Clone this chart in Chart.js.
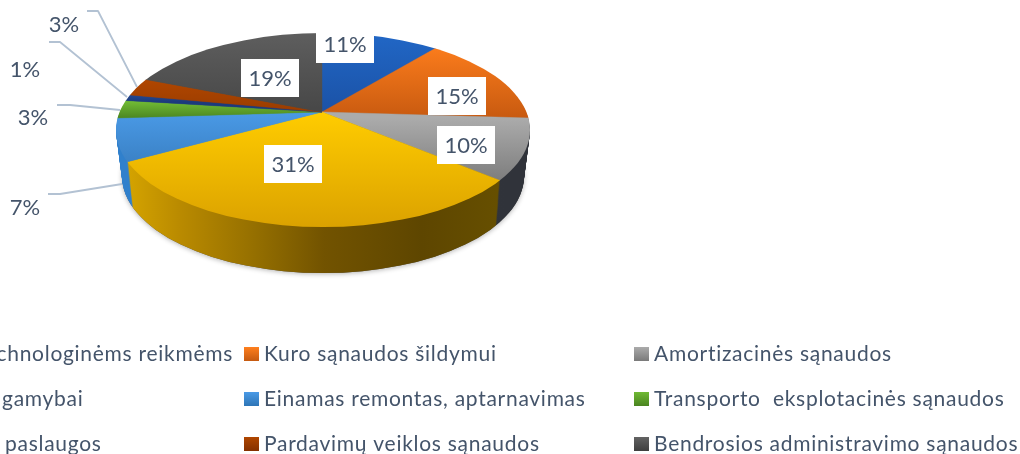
<!DOCTYPE html>
<html lang="lt"><head><meta charset="utf-8">
<style>html,body{margin:0;padding:0;background:#fff;overflow:hidden}canvas{display:block}</style>
<script src="https://cdn.jsdelivr.net/npm/chart.js@4"></script></head>
<body><canvas id="c" width="1020" height="454"></canvas>
<script>
// ---- data ----
const categories = [
  "chnologinėms reikmėms", "Kuro sąnaudos šildymui", "Amortizacinės sąnaudos",
  "gamybai", "Einamas remontas, aptarnavimas", "Transporto  eksplotacinės sąnaudos",
  "paslaugos", "Pardavimų veiklos sąnaudos", "Bendrosios administravimo sąnaudos"
];
const values = [11, 15, 10, 31, 7, 3, 1, 3, 19];

// ---- style ----
const topColors = [
  ["#2167c6", "#1b52a6"], ["#fb7c1c", "#c85a10"], ["#ababab", "#7d7d7d"],
  ["#ffcc00", "#dba200"], ["#4a9ae6", "#3a80c4"], ["#70b934", "#4e8a22"],
  ["#22468e", "#1c3a7c"], ["#b04600", "#9b3d00"], ["#5e5e5e", "#474747"]
];
const topRanges = [[33,112],[47,118],[118,181],[112,227],[112,165],[102,117],[96,102],[80,110],[33,112]];
const legendColors = [
  ["#2167c6","#1b52a6"], ["#ff7f1e","#c55a11"], ["#ababab","#7a7a7a"],
  ["#ffcc00","#dba200"], ["#4a9ae6","#2e75b6"], ["#70b934","#4a8420"],
  ["#22468e","#1c3a7c"], ["#b04600","#843000"], ["#636363","#3f3f3f"]
];
const wallStops = [
  [[0,"#1b52a6"],[1,"#1b52a6"]], [[0,"#9c4a10"],[1,"#9c4a10"]], [[0,"#41444b"],[1,"#30333a"]],
  [[0,"#d4a300"],[0.14,"#b98a00"],[0.33,"#967000"],[0.52,"#725300"],[0.78,"#5e4600"],[1,"#675000"]],
  [[0,"#3080cc"],[1,"#2a6cae"]], [[0,"#4e8a22"],[1,"#4e8a22"]], [[0,"#1c3a7c"],[1,"#1c3a7c"]],
  [[0,"#843000"],[1,"#843000"]], [[0,"#3f3f3f"],[1,"#3f3f3f"]]
];
const TEXT = "#44546a", LINE = "#b3c2d3";
const FONT_LEG = '21px Lato', FONT_LAB = '22px Lato', LEG_SPACING = '0.72px';
const APEX = {x:322, y:112}, K = 0.465;
const RIM = {x:323, y:130, rx:207, ry:97}, DEPTH = 46, NARROW = 6;

const legendRows = [{my:347, ty:361}, {my:392, ty:406}, {my:437, ty:451}];
const legendCols = [{tx:[233,2,5], align:['right','left','left']}, {mx:244, tx:[264,264,264]}, {mx:634, tx:[654,654,654]}];
const boxLabels = [
  {i:0, x:316, y:25}, {i:1, x:428, y:77}, {i:2, x:437, y:126}, {i:3, x:264, y:145}, {i:8, x:241, y:59}
];
const outLabels = [
  {i:4, x:25, y:208, pts:[[48,194],[60,194],[122,184]]},
  {i:5, x:33, y:118, pts:[[57,105],[70,105],[120,110]]},
  {i:6, x:25, y:70,  pts:[[49,42],[60,42],[127,97]]},
  {i:7, x:64, y:25,  pts:[[87,11],[98,11],[137,87]]}
];

function setup(ctx, dy){
  ctx.translate(APEX.x, APEX.y + dy);
  ctx.scale(1, K);
  ctx.translate(-APEX.x, -APEX.y);
}
function drawArc(ctx, arc, fill){
  const o = arc.options;
  arc.options = Object.create(o, {
    backgroundColor:{value:fill}, borderColor:{value:fill}, borderWidth:{value:0.6}
  });
  arc.draw(ctx);
  arc.options = o;
}
const userY = y => APEX.y + (y - APEX.y) / K;

const pie3d = {
  id:'pie3d',
  beforeDatasetDraw(chart){
    const ctx = chart.ctx, arcs = chart.getDatasetMeta(0).data;
    const wallGrads = wallStops.map(st => {
      const g = ctx.createLinearGradient(128,0,505,0);
      st.forEach(s => g.addColorStop(s[0], s[1]));
      return g;
    });
    ctx.save();
    ctx.shadowColor = 'rgba(0,0,0,0.3)'; ctx.shadowBlur = 5; ctx.shadowOffsetY = 1;
    ctx.fillStyle = '#555';
    ctx.beginPath();
    ctx.ellipse(RIM.x, RIM.y + DEPTH, RIM.rx - NARROW, RIM.ry, 0, 0, Math.PI*2);
    ctx.fill();
    ctx.restore();
    for (let d = DEPTH; d >= 1; d--){
      ctx.save();
      ctx.beginPath();
      ctx.ellipse(RIM.x, RIM.y + d, RIM.rx - NARROW*d/DEPTH, RIM.ry, 0, 0, Math.PI*2);
      ctx.clip();
      setup(ctx, d);
      arcs.forEach((a,i) => drawArc(ctx, a, wallGrads[i]));
      ctx.restore();
    }
    ctx.save();
    ctx.beginPath();
    ctx.ellipse(RIM.x, RIM.y, RIM.rx, RIM.ry, 0, 0, Math.PI*2);
    ctx.clip();
    setup(ctx, 0);
    arcs.forEach((a,i) => {
      const g = ctx.createLinearGradient(0, userY(topRanges[i][0]), 0, userY(topRanges[i][1]));
      g.addColorStop(0, topColors[i][0]); g.addColorStop(1, topColors[i][1]);
      drawArc(ctx, a, g);
    });
    ctx.restore();
    return false;
  },
  afterDraw(chart){
    const ctx = chart.ctx;
    ctx.save();
    ctx.strokeStyle = LINE; ctx.lineWidth = 1.8; ctx.lineJoin = 'round';
    outLabels.forEach(l => {
      ctx.beginPath();
      l.pts.forEach((p,j) => j ? ctx.lineTo(p[0],p[1]) : ctx.moveTo(p[0],p[1]));
      ctx.stroke();
    });
    ctx.font = FONT_LAB; ctx.textAlign = 'center'; ctx.textBaseline = 'middle';
    outLabels.forEach(l => { ctx.fillStyle = TEXT; ctx.fillText(values[l.i] + '%', l.x, l.y); });
    boxLabels.forEach(b => {
      ctx.fillStyle = '#fff'; ctx.fillRect(b.x, b.y, 58, 38);
      ctx.fillStyle = TEXT; ctx.fillText(values[b.i] + '%', b.x + 29, b.y + 20);
    });
    ctx.font = FONT_LEG; ctx.textBaseline = 'alphabetic'; ctx.letterSpacing = LEG_SPACING;
    categories.forEach((t,i) => {
      const row = legendRows[Math.floor(i/3)], col = legendCols[i%3], r = Math.floor(i/3);
      if (col.mx !== undefined){
        const g = ctx.createLinearGradient(0,row.my,0,row.my+14);
        g.addColorStop(0, legendColors[i][0]); g.addColorStop(1, legendColors[i][1]);
        ctx.fillStyle = g; ctx.fillRect(col.mx, row.my, 15, 14);
      }
      ctx.textAlign = col.align ? col.align[r] : 'left';
      ctx.fillStyle = TEXT; ctx.fillText(t, col.tx[r], row.ty);
    });
    ctx.restore();
  }
};

new Chart(document.getElementById('c'), {
  type:'pie',
  data:{ labels: categories, datasets:[{ data: values, backgroundColor: topColors.map(c=>c[0]), borderWidth:0 }] },
  options:{
    responsive:false, animation:false, radius:270,
    layout:{ padding:{ left:0, top:0, right:376, bottom:230 } },
    plugins:{ legend:{display:false}, tooltip:{enabled:false} }
  },
  plugins:[pie3d]
});
</script></body></html>
